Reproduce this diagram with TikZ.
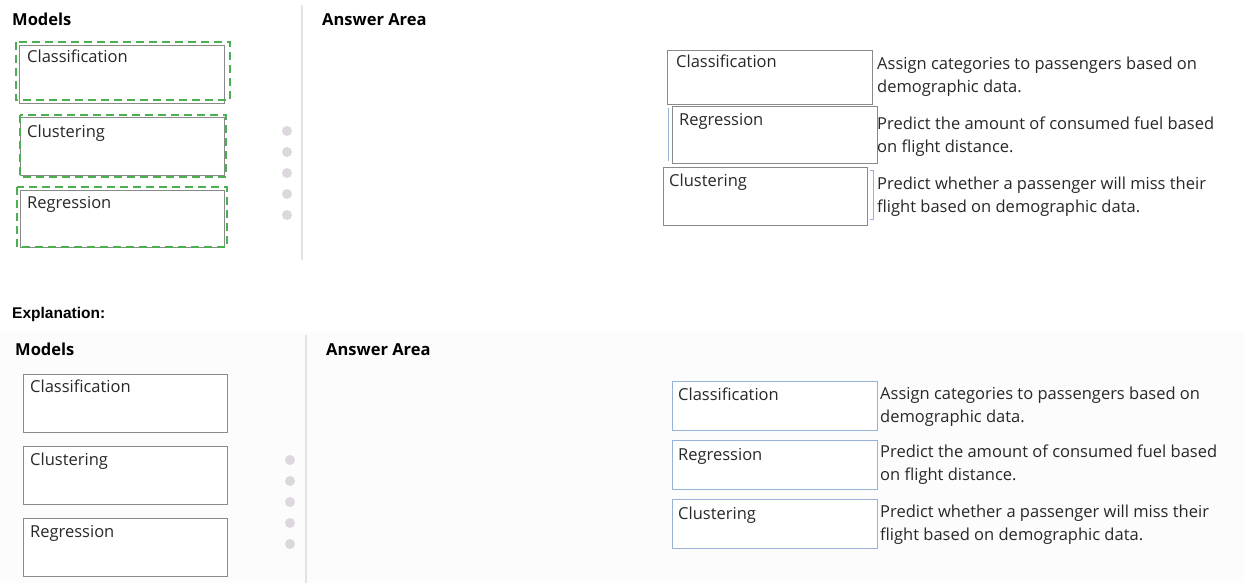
\documentclass[tikz,border=0pt]{standalone}
\usepackage{fontspec}
\setmainfont{Open Sans}
\newfontfamily\arialfont{Liberation Sans}
\usetikzlibrary{positioning}

\newlength{\du}
\setlength{\du}{1pt}

\definecolor{boxgray}{RGB}{138,138,138}
\definecolor{boxblue}{RGB}{150,178,214}
\definecolor{dashgreen}{RGB}{76,175,80}
\definecolor{dotgray}{RGB}{220,216,222}
\definecolor{rulegray}{RGB}{228,228,228}
\definecolor{textgray}{RGB}{40,40,40}
\definecolor{panelgray}{RGB}{252,252,252}

\tikzset{
  modelbox/.style={draw=boxgray, line width=1.4\du, fill=white, inner sep=0pt},
  answerbox/.style={draw=boxblue, line width=1.4\du, fill=white, inner sep=0pt},
  boxtext/.style={anchor=base west, inner sep=0pt, text=textgray, font=\fontsize{16.5}{22.5}\selectfont},
  desctext/.style={anchor=base west, inner sep=0pt, align=left, text=textgray, font=\fontsize{16.5}{23}\selectfont},
  heading/.style={anchor=base west, inner sep=0pt, text=black, font=\fontsize{16.5}{20}\selectfont\bfseries},
  greendash/.style={draw=dashgreen, line width=2\du, dash pattern=on 8\du off 5\du},
  handle/.style={circle, fill=dotgray, inner sep=0pt, minimum size=10\du},
  divider/.style={draw=rulegray, line width=1.6\du}
}

\begin{document}
\begin{tikzpicture}
\pgftransformyscale{-1.000000}
\useasboundingbox (0\du,0\du) rectangle (1244\du,583\du);
\fill[white] (0\du,0\du) rectangle (1244\du,583\du);

% top part
\node[heading] (topmodels) at (12\du,26\du) {Models};
\node[heading] (topanswer) at (322\du,26\du) {Answer Area};
\draw[divider] (302\du,5\du) -- (302\du,260\du);

\node[modelbox, anchor=north west, minimum width=205\du, minimum height=58\du] (tclass) at (19\du,45\du) {};
\node[boxtext] (tclasstxt) at (27\du,63\du) {Classification};
\node[modelbox, anchor=north west, minimum width=204\du, minimum height=58\du] (tclust) at (20\du,117\du) {};
\node[boxtext] (tclusttxt) at (27\du,137\du) {Clustering};
\node[modelbox, anchor=north west, minimum width=204\du, minimum height=57\du] (tregr) at (20\du,190\du) {};
\node[boxtext] (tregrtxt) at (27\du,208\du) {Regression};

\draw[greendash] (16\du,42\du) rectangle (230\du,100\du);
\draw[greendash] (20\du,115\du) rectangle (226\du,177\du);
\draw[greendash] (17\du,187\du) rectangle (227\du,247\du);

\foreach \i in {0,...,4}
  \node[handle] (tdot\i) at (287\du,{(131+21*\i)*\du}) {};

\node[modelbox, anchor=north west, minimum width=205\du, minimum height=54\du] (taclass) at (667\du,50\du) {};
\node[boxtext] (taclasstxt) at (676\du,68\du) {Classification};
\draw[boxblue, line width=0.8\du] (668\du,108\du) -- (668\du,161\du);
\node[modelbox, anchor=north west, minimum width=205\du, minimum height=57\du] (taregr) at (672\du,106\du) {};
\node[boxtext] (taregrtxt) at (679\du,125\du) {Regression};
\node[modelbox, anchor=north west, minimum width=204\du, minimum height=58\du] (taclust) at (663\du,167\du) {};
\node[boxtext] (taclusttxt) at (669\du,186\du) {Clustering};
\draw[boxblue, line width=0.8\du] (870\du,170\du) -- (873\du,170\du) -- (873\du,219\du) -- (870\du,219\du);

% base of a two line node is its last line
\node[desctext] (tdesca) at (877\du,93\du) {Assign categories to passengers based on\\demographic data.};
\node[desctext] (tdescb) at (877\du,152\du) {Predict the amount of consumed fuel based\\on flight distance.};
\node[desctext] (tdescc) at (877\du,212\du) {Predict whether a passenger will miss their\\flight based on demographic data.};

% explanation part
\node[anchor=base west, inner sep=0pt, font=\arialfont\fontsize{15.5}{18}\selectfont\bfseries] (expl) at (12\du,318\du) {Explanation:};
\fill[panelgray] (0\du,332\du) rectangle (1244\du,583\du);
\node[heading] (bmodels) at (15\du,355\du) {Models};
\node[heading] (banswer) at (326\du,355\du) {Answer Area};
\draw[divider] (306\du,335\du) -- (306\du,583\du);

\node[modelbox, anchor=north west, minimum width=204\du, minimum height=58\du] (bclass) at (23\du,374\du) {};
\node[boxtext] (bclasstxt) at (30\du,392\du) {Classification};
\node[modelbox, anchor=north west, minimum width=204\du, minimum height=58\du] (bclust) at (23\du,446\du) {};
\node[boxtext] (bclusttxt) at (30\du,465\du) {Clustering};
\node[modelbox, anchor=north west, minimum width=204\du, minimum height=58\du] (bregr) at (23\du,518\du) {};
\node[boxtext] (bregrtxt) at (30\du,537\du) {Regression};

\foreach \i in {0,...,4}
  \node[handle] (bdot\i) at (290\du,{(460+21*\i)*\du}) {};

\node[answerbox, anchor=north west, minimum width=205\du, minimum height=49\du] (baclass) at (672\du,381\du) {};
\node[boxtext] (baclasstxt) at (678\du,400\du) {Classification};
\node[answerbox, anchor=north west, minimum width=205\du, minimum height=49\du] (baregr) at (672\du,440\du) {};
\node[boxtext] (baregrtxt) at (678\du,460\du) {Regression};
\node[answerbox, anchor=north west, minimum width=205\du, minimum height=49\du] (baclust) at (672\du,499\du) {};
\node[boxtext] (baclusttxt) at (678\du,519\du) {Clustering};

\node[desctext] (bdesca) at (880\du,422\du) {Assign categories to passengers based on\\demographic data.};
\node[desctext] (bdescb) at (880\du,480\du) {Predict the amount of consumed fuel based\\on flight distance.};
\node[desctext] (bdescc) at (880\du,540\du) {Predict whether a passenger will miss their\\flight based on demographic data.};
\end{tikzpicture}
\end{document}
